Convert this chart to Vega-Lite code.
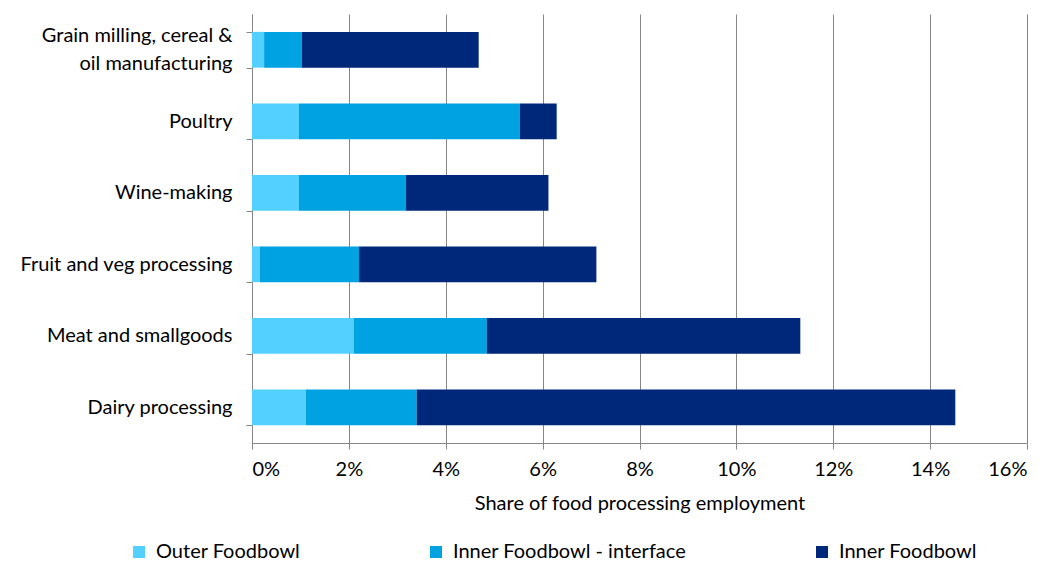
{
  "$schema": "https://vega.github.io/schema/vega-lite/v6.json",
  "autosize": "none",
  "width": 775,
  "height": 429,
  "padding": {"left": 252, "top": 14, "right": 27, "bottom": 119},
  "background": "white",
  "config": {
    "view": {"stroke": null},
    "font": "Lato",
    "axis": {"labelFont": "Lato", "titleFont": "Lato", "labelColor": "#000", "titleColor": "#000", "titleFontWeight": "normal"},
    "legend": {"labelFont": "Lato", "labelColor": "#000"}
  },
  "data": {
    "values": [
      {"sector": "Grain milling, cereal & oil manufacturing", "region": "Outer Foodbowl", "rank": 1, "share": 0.25},
      {"sector": "Grain milling, cereal & oil manufacturing", "region": "Inner Foodbowl - interface", "rank": 2, "share": 0.78},
      {"sector": "Grain milling, cereal & oil manufacturing", "region": "Inner Foodbowl", "rank": 3, "share": 3.65},
      {"sector": "Poultry", "region": "Outer Foodbowl", "rank": 1, "share": 0.97},
      {"sector": "Poultry", "region": "Inner Foodbowl - interface", "rank": 2, "share": 4.56},
      {"sector": "Poultry", "region": "Inner Foodbowl", "rank": 3, "share": 0.76},
      {"sector": "Wine-making", "region": "Outer Foodbowl", "rank": 1, "share": 0.97},
      {"sector": "Wine-making", "region": "Inner Foodbowl - interface", "rank": 2, "share": 2.21},
      {"sector": "Wine-making", "region": "Inner Foodbowl", "rank": 3, "share": 2.94},
      {"sector": "Fruit and veg processing", "region": "Outer Foodbowl", "rank": 1, "share": 0.16},
      {"sector": "Fruit and veg processing", "region": "Inner Foodbowl - interface", "rank": 2, "share": 2.05},
      {"sector": "Fruit and veg processing", "region": "Inner Foodbowl", "rank": 3, "share": 4.90},
      {"sector": "Meat and smallgoods", "region": "Outer Foodbowl", "rank": 1, "share": 2.10},
      {"sector": "Meat and smallgoods", "region": "Inner Foodbowl - interface", "rank": 2, "share": 2.75},
      {"sector": "Meat and smallgoods", "region": "Inner Foodbowl", "rank": 3, "share": 6.47},
      {"sector": "Dairy processing", "region": "Outer Foodbowl", "rank": 1, "share": 1.11},
      {"sector": "Dairy processing", "region": "Inner Foodbowl - interface", "rank": 2, "share": 2.29},
      {"sector": "Dairy processing", "region": "Inner Foodbowl", "rank": 3, "share": 11.12}
    ]
  },
  "mark": {"type": "bar"},
  "encoding": {
    "y": {
      "field": "sector",
      "type": "nominal",
      "sort": ["Grain milling, cereal & oil manufacturing", "Poultry", "Wine-making", "Fruit and veg processing", "Meat and smallgoods", "Dairy processing"],
      "scale": {"paddingInner": 0.5, "paddingOuter": 0.25},
      "axis": {
        "title": null,
        "labelFontSize": 20,
        "labelPadding": 14,
        "labelLimit": 300,
        "labelExpr": "datum.value == 'Grain milling, cereal & oil manufacturing' ? ['Grain milling, cereal &', 'oil manufacturing'] : datum.label",
        "labelLineHeight": 28,
        "labelOffset": {"condition": {"test": "datum.value == 'Grain milling, cereal & oil manufacturing'", "value": -14}, "value": 0},
        "tickBand": "extent",
        "tickColor": "#868686",
        "tickSize": 6,
        "domainColor": "#868686",
        "domainWidth": 1,
        "grid": false
      }
    },
    "x": {
      "field": "share",
      "type": "quantitative",
      "stack": "zero",
      "scale": {"domain": [0, 16], "nice": false},
      "axis": {
        "title": "Share of food processing employment",
        "titleFontSize": 20,
        "titlePadding": 14,
        "labelFontSize": 20,
        "labelPadding": 10,
        "values": [0, 2, 4, 6, 8, 10, 12, 14, 16],
        "labelExpr": "datum.value + '%'",
        "grid": true,
        "gridColor": "#868686",
        "gridWidth": 1,
        "tickColor": "#868686",
        "tickSize": 6,
        "domainColor": "#868686"
      }
    },
    "color": {
      "field": "region",
      "type": "nominal",
      "scale": {
        "domain": ["Outer Foodbowl", "Inner Foodbowl - interface", "Inner Foodbowl"],
        "range": ["#53D0FF", "#00A2E1", "#00287A"]
      },
      "legend": {
        "title": null,
        "orient": "none",
        "direction": "horizontal",
        "columns": 3,
        "legendX": -123,
        "legendY": 528,
        "symbolType": "square",
        "symbolSize": 144,
        "symbolStrokeWidth": 0,
        "labelFontSize": 20,
        "labelOffset": 7,
        "columnPadding": 125,
        "labelLimit": 400
      }
    },
    "order": {"field": "rank", "type": "quantitative"}
  }
}
